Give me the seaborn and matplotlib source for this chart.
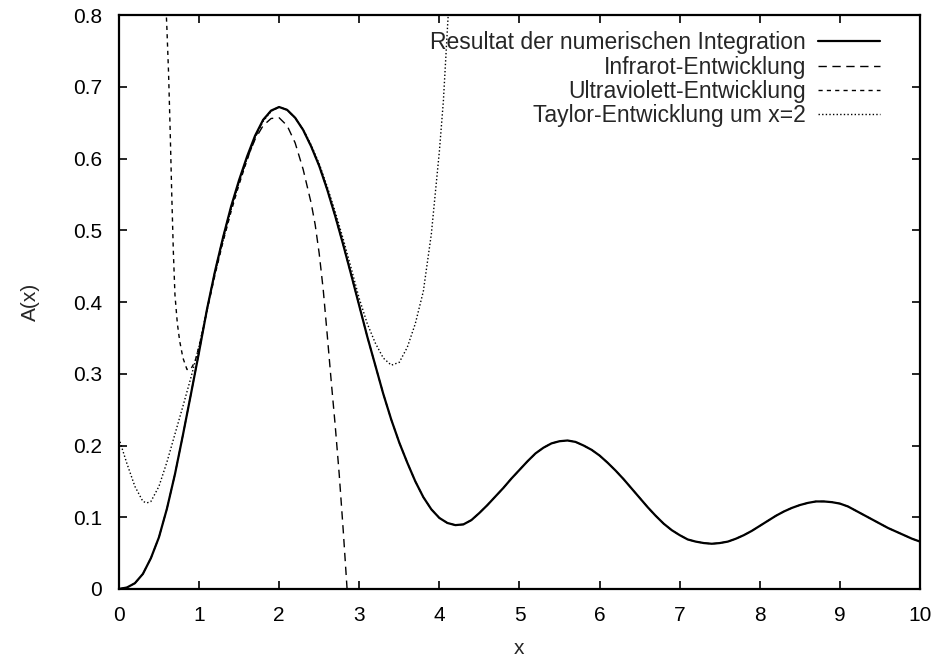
import matplotlib
matplotlib.use("Agg")
import matplotlib.pyplot as plt
import seaborn as sns

# Resultat der numerischen Integration
main_x = [0.0, 0.1, 0.2, 0.3, 0.4, 0.5, 0.6, 0.7, 0.8, 0.9,
          1.0, 1.1, 1.2, 1.3, 1.4, 1.5, 1.6, 1.7, 1.8, 1.9,
          2.0, 2.1, 2.2, 2.3, 2.4, 2.5, 2.6, 2.7, 2.8, 2.9,
          3.0, 3.1, 3.2, 3.3, 3.4, 3.5, 3.6, 3.7, 3.8, 3.9,
          4.0, 4.1, 4.2, 4.3, 4.4, 4.5, 4.6, 4.7, 4.8, 4.9,
          5.0, 5.1, 5.2, 5.3, 5.4, 5.5, 5.6, 5.7, 5.8, 5.9,
          6.0, 6.1, 6.2, 6.3, 6.4, 6.5, 6.6, 6.7, 6.8, 6.9,
          7.0, 7.1, 7.2, 7.3, 7.4, 7.5, 7.6, 7.7, 7.8, 7.9,
          8.0, 8.1, 8.2, 8.3, 8.4, 8.5, 8.6, 8.7, 8.8, 8.9,
          9.0, 9.1, 9.2, 9.3, 9.4, 9.5, 9.6, 9.7, 9.8, 9.9, 10.0]
main_y = [0.0, 0.002, 0.008, 0.021, 0.043, 0.072, 0.112, 0.160, 0.215, 0.272,
          0.330, 0.390, 0.443, 0.490, 0.533, 0.570, 0.603, 0.632, 0.654, 0.667,
          0.672, 0.668, 0.657, 0.640, 0.617, 0.590, 0.557, 0.520, 0.480, 0.438,
          0.395, 0.352, 0.312, 0.272, 0.236, 0.204, 0.176, 0.150, 0.128, 0.111,
          0.099, 0.092, 0.089, 0.090, 0.096, 0.106, 0.117, 0.129, 0.141, 0.154,
          0.166, 0.178, 0.189, 0.197, 0.203, 0.206, 0.207, 0.205, 0.200, 0.194,
          0.186, 0.176, 0.165, 0.153, 0.140, 0.127, 0.114, 0.102, 0.091, 0.082,
          0.075, 0.069, 0.066, 0.064, 0.063, 0.064, 0.066, 0.070, 0.075, 0.081,
          0.088, 0.095, 0.102, 0.108, 0.113, 0.117, 0.120, 0.122, 0.122, 0.121,
          0.119, 0.115, 0.109, 0.103, 0.097, 0.091, 0.085, 0.080, 0.075, 0.070, 0.066]

# Infrarot-Entwicklung
ir_x = [0.0, 0.1, 0.2, 0.3, 0.4, 0.5, 0.6, 0.7, 0.8, 0.9,
        1.0, 1.1, 1.2, 1.3, 1.4, 1.5, 1.6, 1.7, 1.8, 1.9,
        2.0, 2.1, 2.2, 2.3, 2.4, 2.45, 2.5, 2.55, 2.6, 2.65, 2.7, 2.75, 2.8, 2.86]
ir_y = [0.0, 0.002, 0.008, 0.021, 0.043, 0.072, 0.112, 0.160, 0.215, 0.272,
        0.330, 0.390, 0.443, 0.490, 0.532, 0.568, 0.600, 0.627, 0.646, 0.656,
        0.657, 0.646, 0.622, 0.585, 0.538, 0.508, 0.468, 0.418, 0.355, 0.290, 0.228, 0.160, 0.082, -0.02]

# Ultraviolett-Entwicklung
uv_x = [0.585, 0.60, 0.62, 0.64, 0.66, 0.68, 0.70, 0.73, 0.76, 0.80, 0.85, 0.90, 0.95,
        1.0, 1.05, 1.1, 1.2, 1.3, 1.4, 1.5, 1.6, 1.7] + main_x[18:]
uv_y = [0.82, 0.78, 0.72, 0.64, 0.55, 0.47, 0.41, 0.37, 0.345, 0.322, 0.306, 0.307, 0.317,
        0.338, 0.362, 0.388, 0.438, 0.484, 0.526, 0.564, 0.598, 0.629] + main_y[18:]

# Taylor-Entwicklung um x=2
taylor_x = [0.0, 0.1, 0.2, 0.3, 0.35, 0.4, 0.5, 0.6, 0.7, 0.8, 0.9,
            1.0, 1.1, 1.2, 1.3, 1.4, 1.5, 1.6, 1.7, 1.8, 1.9,
            2.0, 2.1, 2.2, 2.3, 2.4, 2.5, 2.6, 2.7, 2.8, 2.9,
            3.0, 3.1, 3.2, 3.3, 3.4, 3.5, 3.6, 3.7, 3.8, 3.9, 4.0, 4.05, 4.1, 4.13]
taylor_y = [0.21, 0.175, 0.143, 0.122, 0.120, 0.122, 0.143, 0.177, 0.216, 0.255, 0.295,
            0.338, 0.390, 0.441, 0.486, 0.529, 0.566, 0.600, 0.630, 0.652, 0.666,
            0.672, 0.668, 0.657, 0.641, 0.619, 0.593, 0.561, 0.526, 0.488, 0.447,
            0.405, 0.370, 0.343, 0.322, 0.312, 0.316, 0.337, 0.370, 0.415, 0.495, 0.61, 0.68, 0.78, 0.84]

labels = ["Resultat der numerischen Integration", "Infrarot-Entwicklung",
          "Ultraviolett-Entwicklung", "Taylor-Entwicklung um x=2"]
x_ticks = [0, 1, 2, 3, 4, 5, 6, 7, 8, 9, 10]
y_ticks = [0, 0.1, 0.2, 0.3, 0.4, 0.5, 0.6, 0.7, 0.8]
y_ticklabels = ["0", "0.1", "0.2", "0.3", "0.4", "0.5", "0.6", "0.7", "0.8"]

sns.set_style("ticks")
plt.rcParams["font.family"] = ["Liberation Sans", "DejaVu Sans"]
fs = 15

fig = plt.figure(figsize=(9.36, 6.61), dpi=100)
ax = fig.add_axes([0.127, 0.109, 0.856, 0.868])

sns.lineplot(x=ir_x, y=ir_y, ax=ax, color="black", lw=1.0, label=labels[1], sort=False)
ax.lines[-1].set_dashes([6, 4])
sns.lineplot(x=uv_x, y=uv_y, ax=ax, color="black", lw=1.0, label=labels[2], sort=False)
ax.lines[-1].set_dashes([3, 3])
sns.lineplot(x=taylor_x, y=taylor_y, ax=ax, color="black", lw=1.0, label=labels[3], sort=False)
ax.lines[-1].set_dashes([1, 1.6])
sns.lineplot(x=main_x, y=main_y, ax=ax, color="black", lw=1.6, label=labels[0], sort=False)
ax.lines[-1].set_zorder(5)

ax.set_xlim(0, 10)
ax.set_ylim(0, 0.8)
ax.set_xticks(x_ticks)
ax.set_xticklabels([str(t) for t in x_ticks])
ax.set_yticks(y_ticks)
ax.set_yticklabels(y_ticklabels)
ax.tick_params(direction="in", length=6, width=1.2, top=True, right=True,
               labelsize=fs, colors="black")
ax.tick_params(axis="y", pad=12)
ax.tick_params(axis="x", pad=12)
for s in ax.spines.values():
    s.set_linewidth(1.6)
    s.set_color("black")

ax.set_xlabel("x", fontsize=fs, labelpad=10)
ax.set_ylabel("A(x)", fontsize=fs, labelpad=24)

handles, lbls = ax.get_legend_handles_labels()
order = [lbls.index(l) for l in labels]
leg = ax.legend([handles[i] for i in order], [lbls[i] for i in order],
                loc="upper right", bbox_to_anchor=(0.95, 0.972), frameon=False,
                markerfirst=False, handlelength=2.7, handletextpad=0.52,
                labelspacing=0.06, borderpad=0, borderaxespad=0, fontsize=16.5)

fig.savefig("out.png", dpi=100)
